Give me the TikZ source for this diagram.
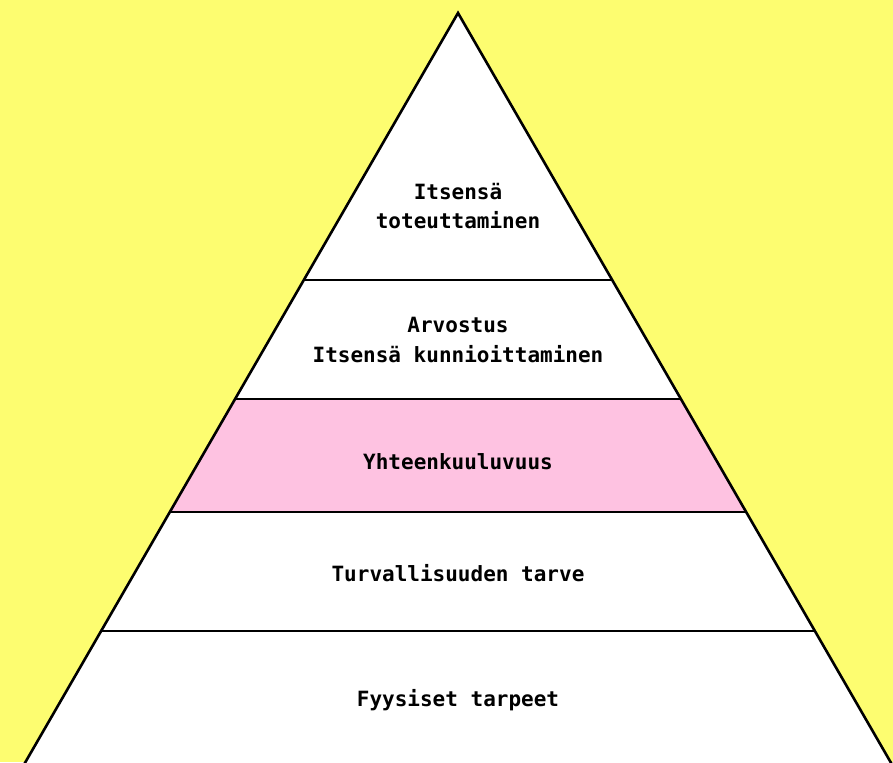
\documentclass[tikz,border=0pt]{standalone}
\usepackage{fontspec}
\newfontfamily\monob{DejaVu Sans Mono}
\definecolor{bgyellow}{HTML}{FDFD70}
\definecolor{tierpink}{HTML}{FEC2E1}
\tikzset{
  tierline/.style={draw=black, line width=2.6pt},
  tierlabel/.style={font=\monob\bfseries\fontsize{21}{29.5}\selectfont, align=center, text=black, inner sep=0pt}
}
\begin{document}
\begin{tikzpicture}[x=1pt,y=-1pt]
\useasboundingbox (0,0) rectangle (893,762);
\clip (0,0) rectangle (893,762);
\fill[bgyellow] (0,0) rectangle (893,762);
% tiers
\coordinate (apex) at (458,13);
\coordinate (l1) at (303.8,280); \coordinate (r1) at (612.2,280);
\coordinate (l2) at (235.1,399); \coordinate (r2) at (680.9,399);
\coordinate (l3) at (169.8,512); \coordinate (r3) at (746.2,512);
\coordinate (l4) at (101.1,631); \coordinate (r4) at (814.9,631);
\coordinate (l5) at (9.3,790);   \coordinate (r5) at (906.7,790);
\fill[white] (apex) -- (l5) -- (r5) -- cycle;
\fill[tierpink] (l2) -- (l3) -- (r3) -- (r2) -- cycle;
\draw[tierline] (l1) -- (r1);
\draw[tierline] (l2) -- (r2);
\draw[tierline] (l3) -- (r3);
\draw[tierline] (l4) -- (r4);
\draw[tierline, line join=miter] (l5) -- (apex) -- (r5);
% labels
\node[tierlabel] (t1) at (458,206) {Itsensä\\toteuttaminen};
\node[tierlabel] (t2) at (458,340) {Arvostus\\Itsensä kunnioittaminen};
\node[tierlabel] (t3) at (458,462) {Yhteenkuuluvuus};
\node[tierlabel] (t4) at (458,573) {Turvallisuuden tarve};
\node[tierlabel] (t5) at (458,700) {Fyysiset tarpeet};
\end{tikzpicture}
\end{document}
